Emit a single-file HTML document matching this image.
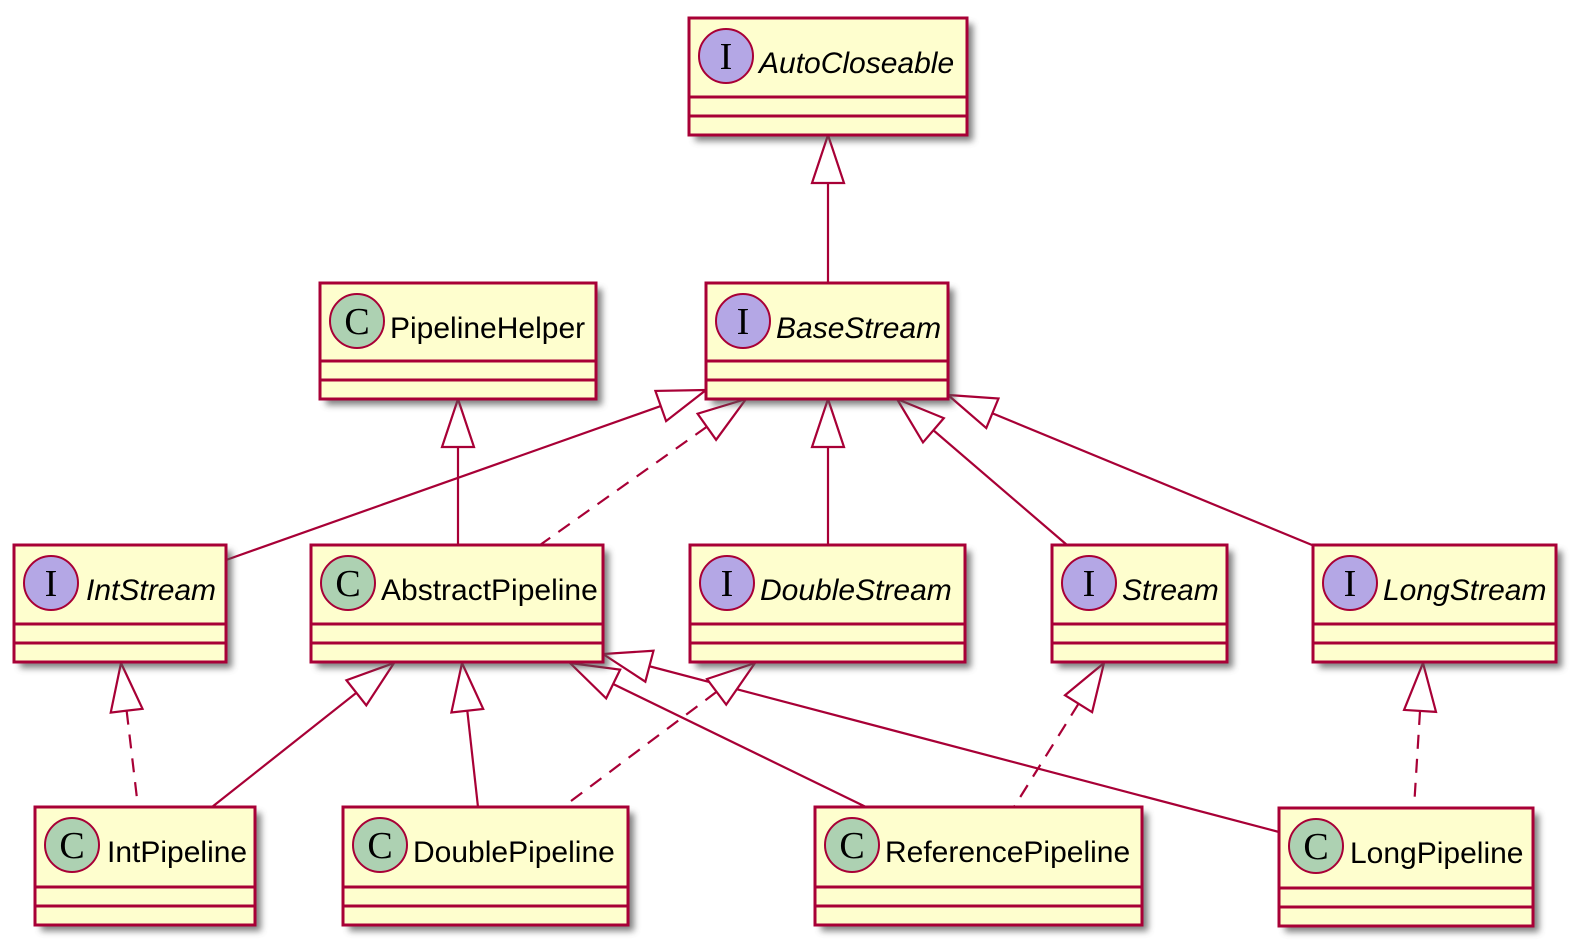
<!DOCTYPE html>
<html><head><meta charset="utf-8"><style>
html,body{margin:0;padding:0;background:#fff;}
svg{display:block;}
text{font-family:"Liberation Sans",Arial,sans-serif;font-size:30px;fill:#000;}
.i{font-style:italic;}
.box{fill:#FEFECE;stroke:#A80036;stroke-width:3;}
.sep{stroke:#A80036;stroke-width:3;}
.e{stroke:#A80036;stroke-width:2.2;fill:none;marker-start:url(#tri);}
.d{stroke-dasharray:14 10;}
.ci{fill:#B4A7E5;stroke:#A80036;stroke-width:2;}
.cc{fill:#ADD1B2;stroke:#A80036;stroke-width:2;}
.g{font-family:"Liberation Serif","DejaVu Serif",serif;font-size:38px;}
.s{fill:#555;opacity:0.75;}
</style></head><body>
<svg width="1582" height="952" viewBox="0 0 1582 952" xmlns="http://www.w3.org/2000/svg">
<defs>
<filter id="sh" x="-10%" y="-10%" width="130%" height="140%"><feGaussianBlur stdDeviation="3.5"/></filter>
<marker id="tri" markerUnits="userSpaceOnUse" markerWidth="60" markerHeight="40" refX="50" refY="20" orient="auto-start-reverse" viewBox="0 0 60 40">
<path d="M50,20 L2,4 L2,36 Z" fill="#fff" stroke="#A80036" stroke-width="2.2" stroke-dasharray="none"/>
</marker>
</defs>

<line class="e" x1="828" y1="135" x2="828" y2="283"/>
<line class="e" x1="458" y1="399" x2="458" y2="545"/>
<line class="e" x1="706" y1="390" x2="226" y2="560"/>
<line class="e d" x1="746" y1="399" x2="540" y2="545"/>
<line class="e" x1="828" y1="399" x2="828" y2="545"/>
<line class="e" x1="897" y1="399" x2="1067" y2="545"/>
<line class="e" x1="948" y1="395" x2="1312" y2="545"/>
<line class="e d" x1="121" y1="663" x2="138" y2="807"/>
<line class="e" x1="394" y1="663" x2="212" y2="807"/>
<line class="e" x1="462" y1="663" x2="478" y2="807"/>
<line class="e" x1="570" y1="663" x2="866" y2="807"/>
<line class="e" x1="603" y1="654" x2="1279" y2="832"/>
<line class="e d" x1="755" y1="663" x2="563" y2="807"/>
<line class="e d" x1="1104" y1="663" x2="1014" y2="807"/>
<line class="e d" x1="1423" y1="663" x2="1414" y2="808"/>

<g transform="translate(689,18)"><rect class="s" x="6" y="6" width="278" height="117" filter="url(#sh)"/><rect class="box" width="278" height="117"/><line class="sep" x1="0" y1="79" x2="278" y2="79"/><line class="sep" x1="0" y1="98" x2="278" y2="98"/><circle class="ci" cx="37" cy="38" r="27"/><text class="g" x="37" y="51" text-anchor="middle">I</text><text class="i" x="70" y="55">AutoCloseable</text></g>

<g transform="translate(320,283)"><rect class="s" x="6" y="6" width="276" height="116" filter="url(#sh)"/><rect class="box" width="276" height="116"/><line class="sep" x1="0" y1="78" x2="276" y2="78"/><line class="sep" x1="0" y1="97" x2="276" y2="97"/><circle class="cc" cx="37" cy="38" r="27"/><text class="g" x="37" y="51" text-anchor="middle">C</text><text x="70" y="55">PipelineHelper</text></g>

<g transform="translate(706,283)"><rect class="s" x="6" y="6" width="242" height="116" filter="url(#sh)"/><rect class="box" width="242" height="116"/><line class="sep" x1="0" y1="78" x2="242" y2="78"/><line class="sep" x1="0" y1="97" x2="242" y2="97"/><circle class="ci" cx="37" cy="38" r="27"/><text class="g" x="37" y="51" text-anchor="middle">I</text><text class="i" x="70" y="55">BaseStream</text></g>

<g transform="translate(14,545)"><rect class="s" x="6" y="6" width="212" height="117" filter="url(#sh)"/><rect class="box" width="212" height="117"/><line class="sep" x1="0" y1="79" x2="212" y2="79"/><line class="sep" x1="0" y1="98" x2="212" y2="98"/><circle class="ci" cx="37" cy="38" r="27"/><text class="g" x="37" y="51" text-anchor="middle">I</text><text class="i" x="72" y="55">IntStream</text></g>

<g transform="translate(311,545)"><rect class="s" x="6" y="6" width="292" height="117" filter="url(#sh)"/><rect class="box" width="292" height="117"/><line class="sep" x1="0" y1="79" x2="292" y2="79"/><line class="sep" x1="0" y1="98" x2="292" y2="98"/><circle class="cc" cx="37" cy="38" r="27"/><text class="g" x="37" y="51" text-anchor="middle">C</text><text x="70" y="55">AbstractPipeline</text></g>

<g transform="translate(690,545)"><rect class="s" x="6" y="6" width="275" height="117" filter="url(#sh)"/><rect class="box" width="275" height="117"/><line class="sep" x1="0" y1="79" x2="275" y2="79"/><line class="sep" x1="0" y1="98" x2="275" y2="98"/><circle class="ci" cx="37" cy="38" r="27"/><text class="g" x="37" y="51" text-anchor="middle">I</text><text class="i" x="70" y="55">DoubleStream</text></g>

<g transform="translate(1052,545)"><rect class="s" x="6" y="6" width="175" height="117" filter="url(#sh)"/><rect class="box" width="175" height="117"/><line class="sep" x1="0" y1="79" x2="175" y2="79"/><line class="sep" x1="0" y1="98" x2="175" y2="98"/><circle class="ci" cx="37" cy="38" r="27"/><text class="g" x="37" y="51" text-anchor="middle">I</text><text class="i" x="70" y="55">Stream</text></g>

<g transform="translate(1313,545)"><rect class="s" x="6" y="6" width="243" height="117" filter="url(#sh)"/><rect class="box" width="243" height="117"/><line class="sep" x1="0" y1="79" x2="243" y2="79"/><line class="sep" x1="0" y1="98" x2="243" y2="98"/><circle class="ci" cx="37" cy="38" r="27"/><text class="g" x="37" y="51" text-anchor="middle">I</text><text class="i" x="70" y="55">LongStream</text></g>

<g transform="translate(35,807)"><rect class="s" x="6" y="6" width="220" height="118" filter="url(#sh)"/><rect class="box" width="220" height="118"/><line class="sep" x1="0" y1="80" x2="220" y2="80"/><line class="sep" x1="0" y1="99" x2="220" y2="99"/><circle class="cc" cx="37" cy="38" r="27"/><text class="g" x="37" y="51" text-anchor="middle">C</text><text x="72" y="55">IntPipeline</text></g>

<g transform="translate(343,807)"><rect class="s" x="6" y="6" width="285" height="118" filter="url(#sh)"/><rect class="box" width="285" height="118"/><line class="sep" x1="0" y1="80" x2="285" y2="80"/><line class="sep" x1="0" y1="99" x2="285" y2="99"/><circle class="cc" cx="37" cy="38" r="27"/><text class="g" x="37" y="51" text-anchor="middle">C</text><text x="70" y="55">DoublePipeline</text></g>

<g transform="translate(815,807)"><rect class="s" x="6" y="6" width="327" height="118" filter="url(#sh)"/><rect class="box" width="327" height="118"/><line class="sep" x1="0" y1="80" x2="327" y2="80"/><line class="sep" x1="0" y1="99" x2="327" y2="99"/><circle class="cc" cx="37" cy="38" r="27"/><text class="g" x="37" y="51" text-anchor="middle">C</text><text x="70" y="55">ReferencePipeline</text></g>

<g transform="translate(1279,808)"><rect class="s" x="6" y="6" width="254" height="118" filter="url(#sh)"/><rect class="box" width="254" height="118"/><line class="sep" x1="0" y1="80" x2="254" y2="80"/><line class="sep" x1="0" y1="99" x2="254" y2="99"/><circle class="cc" cx="37" cy="38" r="27"/><text class="g" x="37" y="51" text-anchor="middle">C</text><text x="71" y="55">LongPipeline</text></g>
</svg>
</body></html>
